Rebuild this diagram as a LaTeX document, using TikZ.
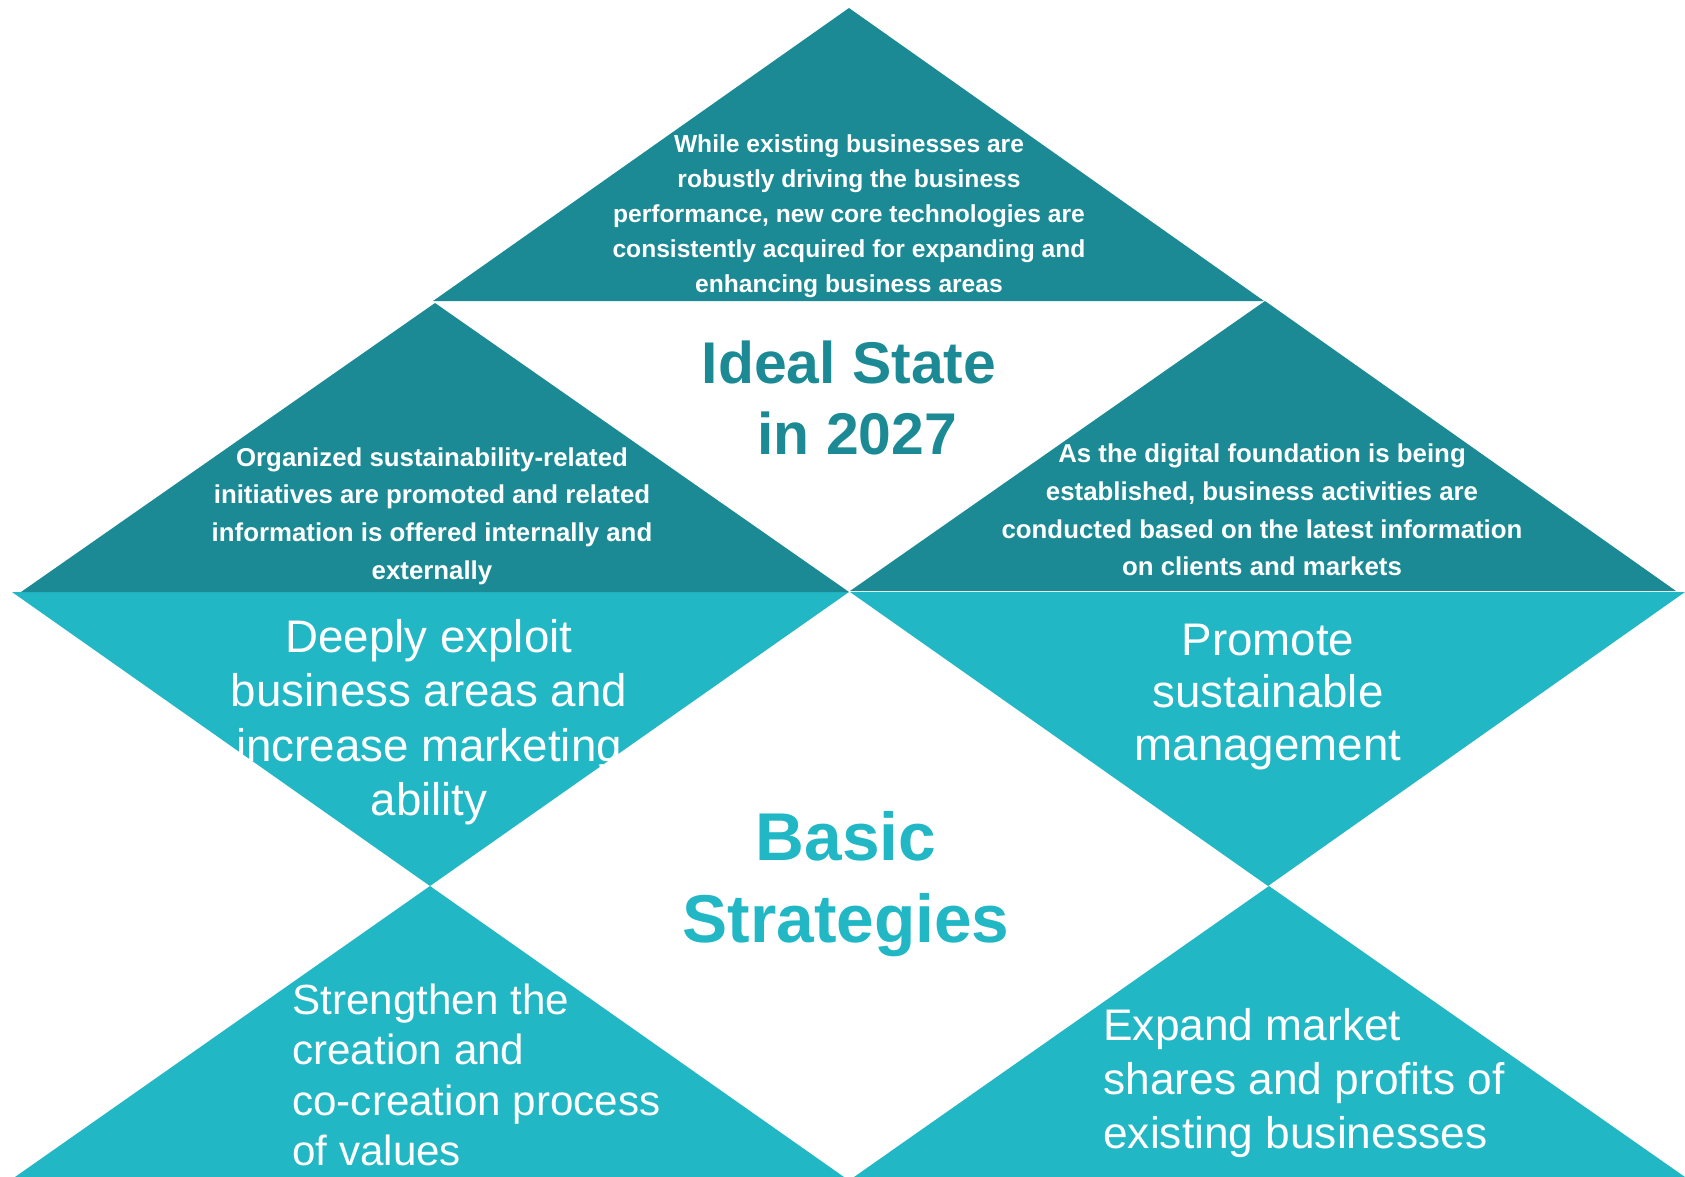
\documentclass[tikz,border=0pt]{standalone}
\usepackage{fontspec}
\setmainfont{Liberation Sans}
\definecolor{tealdark}{HTML}{1B8A94}
\definecolor{teallight}{HTML}{22B7C5}
\begin{document}
\begin{tikzpicture}[x=0.02cm,y=-0.02cm,
  darktri/.style={fill=tealdark},
  lighttri/.style={fill=teallight},
  goaltext/.style={text=white,inner sep=0pt,align=center,
    font=\bfseries\fontsize{14.7}{21.4}\selectfont},
  strattext/.style={text=white,inner sep=0pt,
    font=\fontsize{26}{31}\selectfont},
  lowtext/.style={text=white,inner sep=0pt,align=left,anchor=west},
  headline/.style={inner sep=0pt,align=center}]
\useasboundingbox (0,0) rectangle (1685,1177);

% light (strategy) triangles
\path[lighttri] (12,592) -- (849,592) -- (430,886) -- cycle;
\path[lighttri] (850,592) -- (1685,592) -- (1268,886) -- cycle;
\path[lighttri] (430,886) -- (15,1177) -- (844,1177) -- cycle;
\path[lighttri] (1269,886) -- (854,1177) -- (1685,1177) -- cycle;

% dark (goal) triangles
\path[darktri] (849,8) -- (1264,301) -- (433,301) -- cycle;
\path[darktri] (435,303) -- (849,592) -- (21,592) -- cycle;
\path[darktri] (1265,301) -- (1676,591) -- (850,591) -- cycle;

% goal statements
\node[goaltext,font=\bfseries\fontsize{14}{20}\selectfont] (goaltop) at (849,216)
  {While existing businesses are\\robustly driving the business\\performance, new core technologies are\\consistently acquired for expanding and\\enhancing business areas};
\node[goaltext] (goalleft) at (432,516)
  {Organized sustainability-related\\initiatives are promoted and related\\information is offered internally and\\externally};
\node[goaltext] (goalright) at (1262,510)
  {As the digital foundation is being\\established, business activities are\\conducted based on the latest information\\on clients and markets};

% strategies
\node[strattext,align=center] (stratleft) at (429,722)
  {Deeply exploit\\business areas and\\increase marketing\\ability};
\node[strattext,align=center,font=\fontsize{26}{30}\selectfont] (stratright) at (1268,697)
  {Promote\\sustainable\\management};
\node[lowtext,font=\fontsize{24}{28.6}\selectfont] (stratlowleft) at (292,1075)
  {Strengthen the\\creation and\\co-creation process\\of values};
\node[lowtext,font=\fontsize{25.2}{30.6}\selectfont] (stratlowright) at (1103,1083)
  {Expand market\\shares and profits of\\existing businesses};

% headings
\node[headline,text=tealdark,font=\bfseries\fontsize{33.5}{40}\selectfont] (ideal) at (849,398)
  {Ideal State\\\hspace*{0.278em}in 2027};
\node[headline,text=teallight,font=\bfseries\fontsize{38.5}{47}\selectfont] (basic) at (846,884)
  {Basic\\Strategies};
\end{tikzpicture}
\end{document}
